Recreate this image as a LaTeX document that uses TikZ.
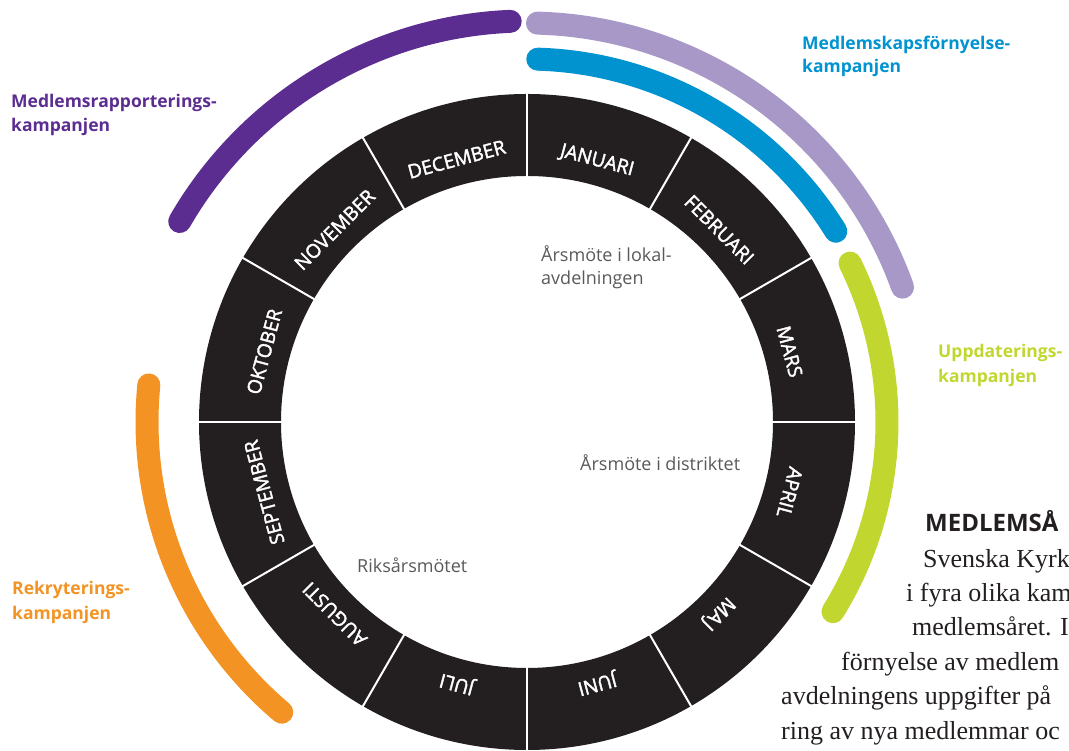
\documentclass[tikz,border=0pt]{standalone}
\usepackage{fontspec}
\setmainfont{Open Sans}
\newfontfamily\serifface{Liberation Serif}
\newfontfamily\monthface{Open Sans}[FakeBold=2]
\usetikzlibrary{calc}
\definecolor{ringblack}{HTML}{231F20}
\definecolor{purpleA}{HTML}{5C2D91}
\definecolor{lilac}{HTML}{A898C8}
\definecolor{blueA}{HTML}{0093D0}
\definecolor{greenA}{HTML}{C1D72F}
\definecolor{orangeA}{HTML}{F39324}
\definecolor{grayA}{HTML}{58595B}
\begin{document}
\begin{tikzpicture}[x=1pt,y=1pt,
  camparc/.style={line width=23pt, line cap=round},
  monthlbl/.style={text=white, font=\monthface\fontsize{19.3}{21}\selectfont, inner sep=0pt, text height=13.8pt, text depth=0pt},
  camplbl/.style={anchor=base west, inner sep=0pt, font=\fontsize{17.5}{20}\selectfont\bfseries},
  innerlbl/.style={anchor=base west, inner sep=0pt, text=grayA, font=\fontsize{18}{21}\selectfont},
  headlbl/.style={anchor=base west, inner sep=0pt, text=ringblack, font=\fontsize{24}{28}\selectfont\bfseries},
  bodytxt/.style={anchor=base west, inner sep=0pt, text=ringblack, font=\serifface\fontsize{26}{30}\selectfont},
]
\useasboundingbox (0,0) rectangle (1069,751);
\coordinate (C) at (527,329);
% ring
\fill[ringblack, even odd rule] (C) circle[radius=328] (C) circle[radius=246];
\foreach \a in {0,30,...,330} \draw[white, line width=2pt] ($(C)+(\a:244)$) -- ($(C)+(\a:330)$);
% months
\foreach \m [count=\i] in {JANUARI,FEBRUARI,MARS,APRIL,MAJ,JUNI,JULI,AUGUSTI,SEPTEMBER,OKTOBER,NOVEMBER,DECEMBER} {
  \pgfmathsetmacro\ang{105-30*\i}
  \node[monthlbl, rotate=\ang-90] (m\i) at ($(C)+(\ang:272)$) {\m};
}
% campaign arcs
\draw[camparc, purpleA] ($(C)+(92.4:401)$) arc[start angle=92.4, end angle=150, radius=401];
\draw[camparc, lilac] ($(C)+(88.5:399)$) arc[start angle=88.5, end angle=19.75, radius=399];
\draw[camparc, blueA] ($(C)+(88.3:363)$) arc[start angle=88.3, end angle=31.7, radius=363];
\draw[camparc, greenA] ($(C)+(26.2:360)$) arc[start angle=26.2, end angle=-31.8, radius=360];
\draw[camparc, orangeA] ($(C)+(174.4:380)$) arc[start angle=174.4, end angle=229.8, radius=380];
% campaign labels
\node[camplbl, text=purpleA] (pl1) at (11,643) {Medlemsrapporterings-};
\node[camplbl, text=purpleA] (pl2) at (11,619) {kampanjen};
\node[camplbl, text=blueA] (bl1) at (802,701) {Medlemskapsförnyelse-};
\node[camplbl, text=blueA] (bl2) at (802,678) {kampanjen};
\node[camplbl, text=greenA] (gl1) at (938,393) {Uppdaterings-};
\node[camplbl, text=greenA] (gl2) at (938,368) {kampanjen};
\node[camplbl, text=orangeA] (ol1) at (12,156) {Rekryterings-};
\node[camplbl, text=orangeA] (ol2) at (12,131) {kampanjen};
% inner labels
\node[innerlbl] (i1a) at (541,489) {Årsmöte i lokal-};
\node[innerlbl] (i1b) at (541,466) {avdelningen};
\node[innerlbl] (i2) at (580,280) {Årsmöte i distriktet};
\node[innerlbl] (i3) at (357,178) {Riksårsmötet};
% body text
\node[headlbl] (h) at (925,219) {MEDLEMSÅ};
\node[bodytxt] (t1) at (923,183) {Svenska Kyrk};
\node[bodytxt] (t2) at (906,149) {i fyra olika kam};
\node[bodytxt] (t3) at (912,115) {medlemsåret. I};
\node[bodytxt] (t4) at (841,80) {förnyelse av medlem};
\node[bodytxt] (t5) at (781,46) {avdelningens uppgifter på};
\node[bodytxt] (t6) at (781,11) {ring av nya medlemmar oc};
\end{tikzpicture}
\end{document}
